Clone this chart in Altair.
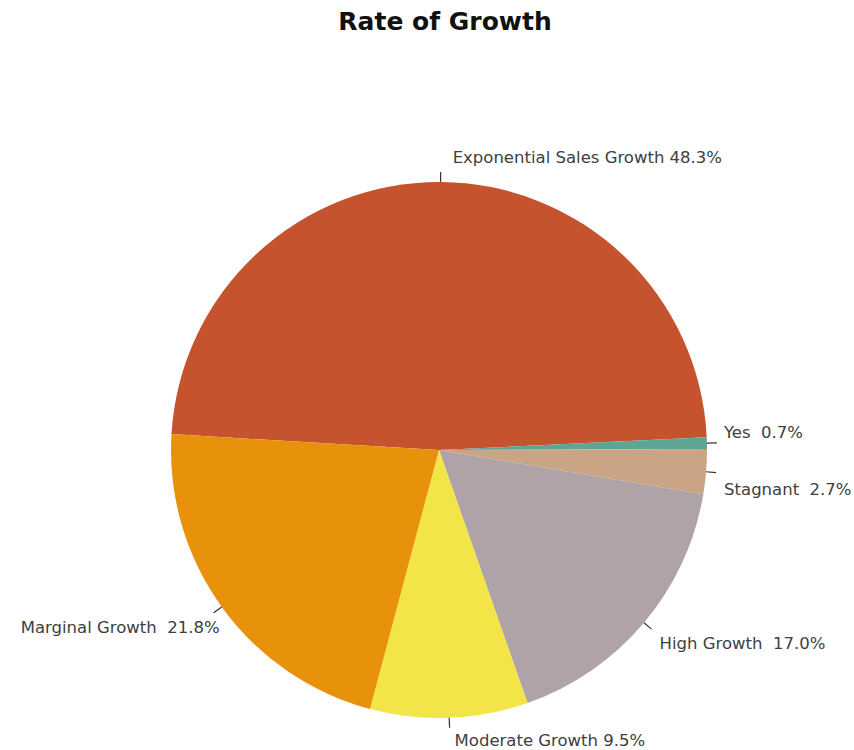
import altair as alt
import pandas as pd
import math

categories = ["Exponential Sales Growth", "Yes", "Stagnant", "High Growth", "Moderate Growth", "Marginal Growth"]
shares = [48.3, 0.7, 2.7, 17.0, 9.5, 21.8]
label_gaps = [" ", "\u00a0 ", "\u00a0 ", "\u00a0 ", "\u00a0", "\u00a0 "]
colors = ["#C4532E", "#5EA595", "#C9A585", "#B0A3A7", "#F3E548", "#E8920C"]

df = pd.DataFrame({
    "category": categories,
    "share": shares,
    "order": list(range(len(categories))),
    "label": [c + g + f"{s:.1f}%" for c, s, g in zip(categories, shares, label_gaps)],
})

start = math.radians(-86.6)
theta_scale = alt.Scale(domain=[0, 100], range=[start, start + 2 * math.pi])
color_scale = alt.Scale(domain=categories, range=colors)

CX, CY, R = 439, 400, 268

base = alt.Chart(df).transform_window(
    cum="sum(share)", sort=[alt.SortField("order")], frame=[None, 0]
).transform_calculate(
    mid="datum.cum - datum.share / 2",
    t0="datum.cum - datum.share / 2 - 0.035",
    t1="datum.cum - datum.share / 2 + 0.035",
)

pie = base.mark_arc(radius=R, stroke=None).encode(
    theta=alt.Theta("share:Q", stack=True, scale=theta_scale),
    order=alt.Order("order:Q"),
    color=alt.Color("category:N", scale=color_scale, legend=None),
    x=alt.value(CX), y=alt.value(CY),
)

ticks = base.mark_arc(radius=R + 10, radius2=R, color="#333333").encode(
    theta=alt.Theta("t0:Q", scale=theta_scale),
    theta2="t1:Q",
    x=alt.value(CX), y=alt.value(CY),
)

placement = {
    "Exponential Sales Growth": ("left", 12, -14),
    "Yes": ("left", 7, -10),
    "Stagnant": ("left", 8, 17),
    "High Growth": ("left", 8, 15),
    "Moderate Growth": ("left", 5, 13),
    "Marginal Growth": ("right", 6, 15),
}

texts = []
for cat, (al, dx, dy) in placement.items():
    t = base.transform_filter(alt.datum.category == cat).mark_text(
        radius=R + 10, align=al, baseline="middle", dx=dx, dy=dy,
        font="DejaVu Sans", fontSize=16.5, color="#404040",
    ).encode(
        theta=alt.Theta("mid:Q", scale=theta_scale),
        text="label:N",
        x=alt.value(CX), y=alt.value(CY),
    )
    texts.append(t)

chart = alt.layer(pie, ticks, *texts).properties(
    width=854, height=700,
    autosize=alt.AutoSizeParams(type="none"),
    padding={"left": 0, "top": 50, "right": 0, "bottom": 0},
    title=alt.TitleParams("Rate of Growth", font="DejaVu Sans", fontSize=25, fontWeight="bold",
                          color="#111111", anchor="middle", dx=18, offset=15),
).configure_view(stroke=None)

chart.save("out.html", embed_options={"renderer": "svg", "actions": False})
